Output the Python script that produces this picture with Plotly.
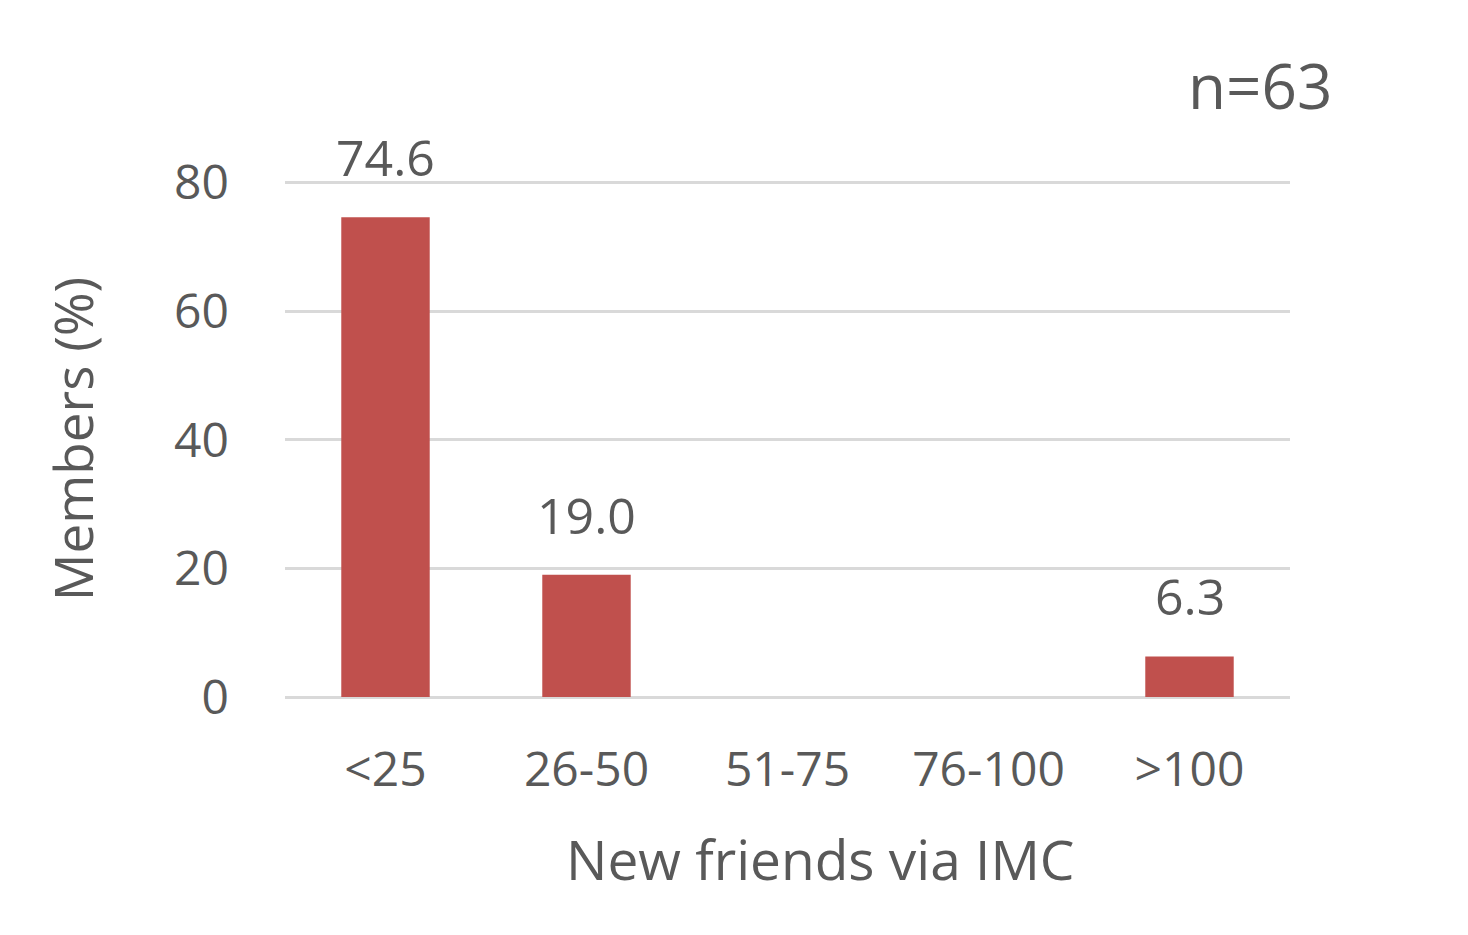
import plotly.graph_objects as go

categories = ["<25", "26-50", "51-75", "76-100", ">100"]
values = [74.6, 19.0, 0, 0, 6.3]
labels = ["74.6", "19.0", "", "", "6.3"]
y_ticks = [0, 20, 40, 60, 80]

gray = "#595959"
font_family = "Open Sans, Liberation Sans, sans-serif"

W, H = 1452, 919
L, T = 277, 173
PW, PH = 1005, 516

fig = go.Figure(go.Bar(
    x=categories, y=values,
    marker=dict(color="#C0504D", line=dict(width=0)),
    cliponaxis=False, hoverinfo="x+y",
))

for c, v, t in zip(categories, values, labels):
    if t:
        fig.add_annotation(x=c, y=v, text=t, showarrow=False, xref="x", yref="y",
                           yanchor="middle", yshift=60,
                           font=dict(size=50, color=gray, family=font_family))

fig.update_layout(
    width=W, height=H,
    margin=dict(l=L, r=W - L - PW, t=T, b=H - T - PH, pad=0),
    plot_bgcolor="white", paper_bgcolor="white",
    bargap=0.56,
    showlegend=False,
    font=dict(family=font_family, color=gray),
)
fig.update_yaxes(
    range=[0, 80.25], tickvals=y_ticks, showgrid=True, gridcolor="#D9D9D9", gridwidth=2.5,
    zeroline=True, zerolinecolor="#D9D9D9", zerolinewidth=2.5,
    tickfont=dict(size=48, color=gray), ticklabelstandoff=55,
    title=dict(text="Members (%)", font=dict(size=53, color=gray), standoff=63),
)
fig.update_xaxes(
    tickfont=dict(size=48, color=gray), ticklabelstandoff=40,
    showline=False,
)
# x-axis title (offset to the right as in the reference)
fig.add_annotation(text="New friends via IMC", xref="paper", yref="paper",
                   x=(820 - 8 - L) / PW, y=(T + PH - (858 - 8)) / PH,
                   xanchor="center", yanchor="middle", showarrow=False,
                   font=dict(size=55, color=gray, family=font_family))
fig.add_annotation(text="n=63", xref="paper", yref="paper",
                   x=(1260 - 8 - L) / PW, y=(T + PH - (85 - 8)) / PH,
                   xanchor="center", yanchor="middle", showarrow=False,
                   font=dict(size=62, color=gray, family=font_family))

fig.write_html("out.html")
